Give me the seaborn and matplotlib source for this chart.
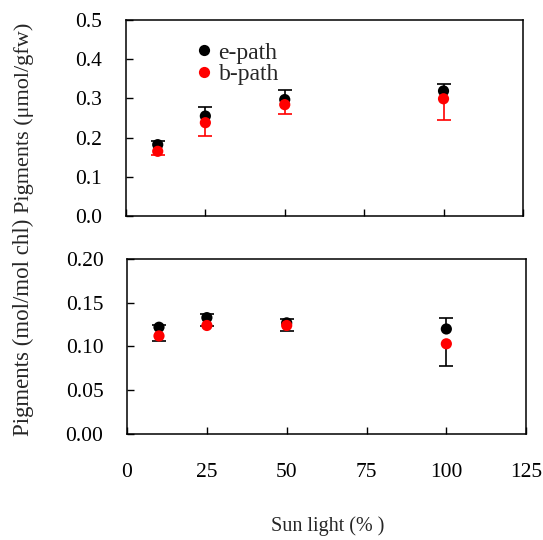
import pandas as pd
import numpy as np
import matplotlib
matplotlib.use('Agg')
import matplotlib.pyplot as plt
import seaborn as sns


LIGHT = [10, 25, 50, 100]

E_TOP = [0.182, 0.255, 0.297, 0.319]
E_TOP_ERR = [0.009, 0.023, 0.025, 0.018]
B_TOP = [0.165, 0.238, 0.284, 0.299]
B_TOP_ERR = [0.010, 0.033, 0.025, 0.054]

E_BOT = [0.122, 0.133, 0.127, 0.120]
E_BOT_ERR = [0.003, 0.004, 0.005, 0.013]
B_BOT = [0.112, 0.124, 0.124, 0.103]
B_BOT_ERR = [0.006, 0.001, 0.006, 0.025]

X_TICKS = [0, 25, 50, 75, 100, 125]
TOP_TICKS = [0.0, 0.1, 0.2, 0.3, 0.4, 0.5]
BOT_TICKS = [0.00, 0.05, 0.10, 0.15, 0.20]

COLORS = {'e-path': 'black', 'b-path': 'red'}


def make_df(e_vals, b_vals):
    df = pd.DataFrame({
        'light': LIGHT + LIGHT,
        'value': e_vals + b_vals,
        'path': ['e-path'] * len(LIGHT) + ['b-path'] * len(LIGHT),
    })
    return df


def one_sided_err(ax, vals, errs, color, up):
    # stem from the point, single cap at the far end only
    vals = np.array(vals)
    errs = np.array(errs)
    ends = vals + errs if up else vals - errs
    ax.vlines(LIGHT, vals, ends, color=color, lw=1.2, zorder=1)
    ax.plot(LIGHT, ends, ls='none', marker='_', ms=10, mew=1.2, color=color, zorder=1)


def style_axis(ax, yticks, yfmt, show_x):
    ax.set_xlim(0, 125)
    ax.set_ylim(yticks[0], yticks[-1])
    ax.set_xticks(X_TICKS)
    ax.set_yticks(yticks)
    ax.set_yticklabels([yfmt.format(t) for t in yticks])
    ax.tick_params(direction='in', length=5, width=1, top=False, right=False,
                   labelsize=15.5, colors='black')
    ax.tick_params(axis='y', pad=17)
    ax.tick_params(axis='x', pad=21)
    if not show_x:
        ax.tick_params(axis='x', labelbottom=False)
    for spine in ax.spines.values():
        spine.set_visible(True)
        spine.set_linewidth(1.1)
        spine.set_color('black')
    ax.set_xlabel('')


sns.set_style('ticks')
plt.rcParams['font.family'] = ['Liberation Serif', 'DejaVu Serif']

fig = plt.figure(figsize=(5.43, 5.40), dpi=100)
ax_top = fig.add_axes([0.232, 0.600, 0.731, 0.363])
ax_bot = fig.add_axes([0.234, 0.197, 0.735, 0.323])

# top panel: e-path errors upward, b-path errors downward
one_sided_err(ax_top, E_TOP, E_TOP_ERR, 'black', True)
one_sided_err(ax_top, B_TOP, B_TOP_ERR, 'red', False)
sns.scatterplot(data=make_df(E_TOP, B_TOP), x='light', y='value', hue='path',
                palette=COLORS, s=65, edgecolor='none', ax=ax_top, zorder=3)
sns.move_legend(ax_top, 'upper left', bbox_to_anchor=(0.15, 0.935), frameon=False,
                title=None, fontsize=17, handlelength=0.8, handletextpad=0.2,
                labelspacing=0.0, markerscale=1.0, borderaxespad=0)
style_axis(ax_top, TOP_TICKS, '{:.1f}', False)
ax_top.set_ylabel('Pigments (\u03bcmol/gfw)', fontsize=16)
ax_top.yaxis.set_label_coords(-0.232, 0.5)

# bottom panel: both error bars in black
one_sided_err(ax_bot, E_BOT, E_BOT_ERR, 'black', True)
one_sided_err(ax_bot, B_BOT, B_BOT_ERR, 'black', False)
sns.scatterplot(data=make_df(E_BOT, B_BOT), x='light', y='value', hue='path',
                palette=COLORS, s=65, edgecolor='none', ax=ax_bot, zorder=3,
                legend=False)
style_axis(ax_bot, BOT_TICKS, '{:.2f}', True)
ax_bot.set_ylabel('Pigments (mol/mol chl)', fontsize=16.5)
ax_bot.yaxis.set_label_coords(-0.234, 0.607)

fig.text(0.603, 0.025, 'Sun light (% )', ha='center', va='center', fontsize=14.5)

fig.savefig('out.png', dpi=100)
